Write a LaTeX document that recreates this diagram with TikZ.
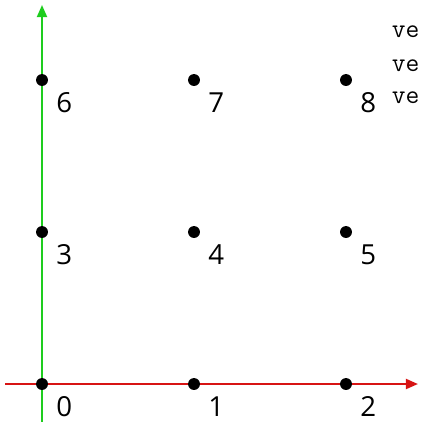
\documentclass[tikz,border=0pt]{standalone}
\usepackage{fontspec}
\setmainfont{Open Sans}
\usepackage{xcolor}
\usetikzlibrary{arrows.meta, positioning, calc}
\definecolor{axisred}{RGB}{215, 20, 20}
\definecolor{axisgreen}{RGB}{30, 205, 30}

\begin{document}
\begin{tikzpicture}[
    vertex/.style={circle, fill=black, inner sep=0pt, minimum size=0.235cm},
    vlabel/.style={font=\fontsize{15.5}{18}\selectfont, inner sep=0pt},
    axis/.style={line width=1.1pt, draw=#1, -{Triangle[length=0.24cm, width=0.2cm]}},
    note/.style={font=\fontsize{15}{17}\ttfamily, anchor=west, inner sep=0pt}
]
    \useasboundingbox (-0.829,-0.75) rectangle (7.461,7.579);

    % axes
    \coordinate (xstart) at (-0.73, 0);
    \coordinate (xend) at (7.42, 0);
    \coordinate (ystart) at (0, -0.75);
    \coordinate (yend) at (0, 7.48);
    \draw[axis=axisred] (xstart) -- (xend);
    \draw[axis=axisgreen] (ystart) -- (yend);

    % vertices
    \foreach \i in {0,...,8} {
        \pgfmathtruncatemacro{\col}{mod(\i,3)}
        \pgfmathtruncatemacro{\row}{\i/3}
        \node[vertex] (v\i) at (3*\col, 3*\row) {};
        \node[vlabel] (l\i) at ($(v\i)+(0.44,-0.45)$) {\i};
    }

    % side notes
    \node[note] (n1) at (6.90, 6.95) {ve};
    \node[note] (n2) at (6.90, 6.29) {ve};
    \node[note] (n3) at (6.90, 5.66) {ve};
\end{tikzpicture}
\end{document}
